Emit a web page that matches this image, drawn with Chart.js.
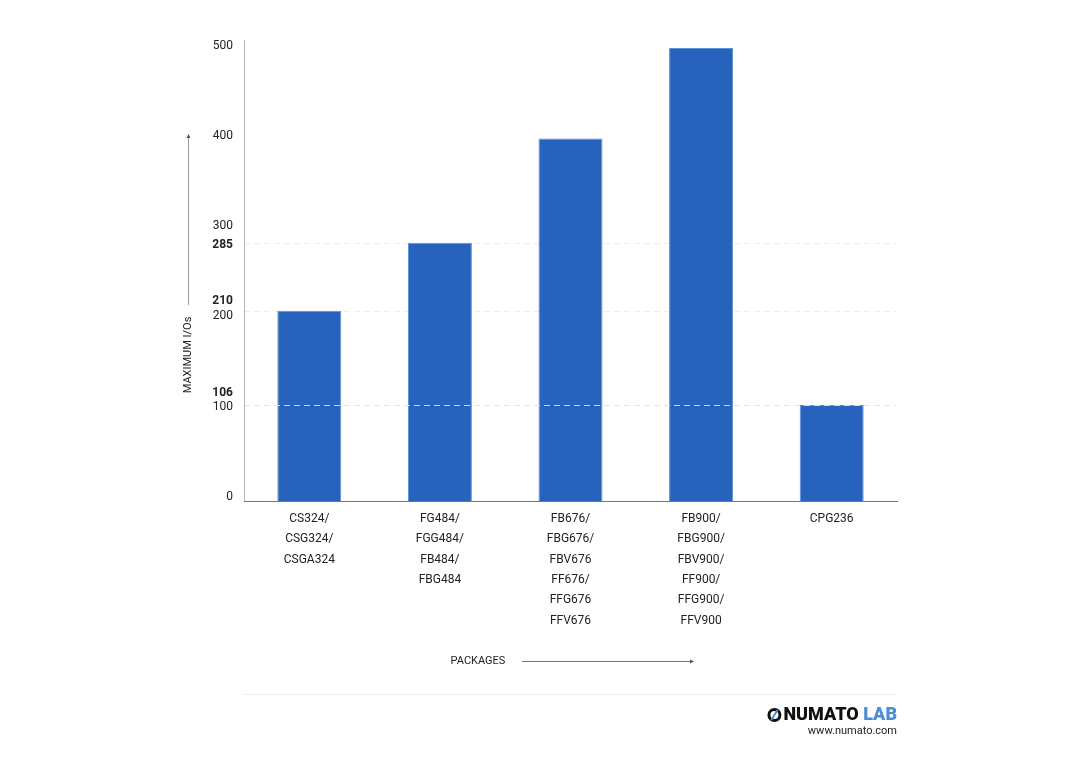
<!DOCTYPE html>
<html>
<head>
<meta charset="utf-8">
<script src="https://cdn.jsdelivr.net/npm/chart.js@4"></script>
<style>
body { margin: 0; background: #fff; }
#wrap { width: 1080px; height: 763px; }
</style>
</head>
<body>
<div id="wrap"><canvas id="ioChart" width="1080" height="763"></canvas></div>
<script>
const packages = [
    ['CS324/', 'CSG324/', 'CSGA324'],
    ['FG484/', 'FGG484/', 'FB484/', 'FBG484'],
    ['FB676/', 'FBG676/', 'FBV676', 'FF676/', 'FFG676', 'FFV676'],
    ['FB900/', 'FBG900/', 'FBV900/', 'FF900/', 'FFG900/', 'FFV900'],
    ['CPG236']
];
const maxIOs = [210, 285, 400, 500, 106];
const roundTicks = [0, 100, 200, 300, 400, 500];
const markedTicks = [106, 210, 285];
// small nudges so close labels don't collide
const tickNudge = { 0: -4, 100: -3, 106: -12, 200: -4, 210: -10, 285: 2, 300: -3, 400: -3, 500: -2 };

const font = 'Roboto, "Noto Sans", sans-serif';

const overlay = {
    id: 'overlay',
    beforeDatasetsDraw(chart) {
        const { ctx, chartArea, scales: { y } } = chart;
        ctx.save();
        ctx.strokeStyle = '#eeeeee';
        ctx.setLineDash([6, 4]);
        ctx.lineWidth = 1;
        [210, 285].forEach(v => {
            const py = Math.round(y.getPixelForValue(v)) + 0.5;
            ctx.beginPath(); ctx.moveTo(chartArea.left, py); ctx.lineTo(chartArea.right, py); ctx.stroke();
        });
        ctx.restore();
    },
    afterDatasetsDraw(chart) {
        const { ctx, chartArea, scales: { x, y } } = chart;
        ctx.save();
        ctx.strokeStyle = 'rgba(225,225,225,0.9)';
        ctx.setLineDash([6, 4]);
        const p106 = Math.round(y.getPixelForValue(106)) + 0.5;
        ctx.beginPath(); ctx.moveTo(chartArea.left, p106); ctx.lineTo(chartArea.right, p106); ctx.stroke();
        ctx.setLineDash([]);

        ctx.strokeStyle = '#b5b5b5';
        ctx.beginPath(); ctx.moveTo(chartArea.left + 0.5, 40); ctx.lineTo(chartArea.left + 0.5, chartArea.bottom); ctx.stroke();

        ctx.fillStyle = '#222';
        ctx.textAlign = 'right';
        ctx.textBaseline = 'middle';
        roundTicks.concat(markedTicks).forEach(v => {
            const bold = markedTicks.includes(v);
            ctx.font = (bold ? 'bold ' : '') + '12px ' + font;
            const py = y.getPixelForValue(v) + (tickNudge[v] || 0);
            ctx.fillText(String(v), 233, py);
        });

        ctx.font = '12px ' + font;
        ctx.textAlign = 'center';
        packages.forEach((lines, i) => {
            const px = x.getPixelForValue(i);
            lines.forEach((t, j) => ctx.fillText(t, px, 519 + j * 20.3));
        });

        ctx.strokeStyle = '#999';
        ctx.beginPath(); ctx.moveTo(188.5, 137); ctx.lineTo(188.5, 305); ctx.stroke();
        ctx.fillStyle = '#555';
        ctx.beginPath(); ctx.moveTo(186.5, 138); ctx.lineTo(188.5, 134); ctx.lineTo(190.5, 138); ctx.fill();
        ctx.save();
        ctx.translate(188, 355);
        ctx.rotate(-Math.PI / 2);
        ctx.fillStyle = '#222';
        ctx.font = '11px ' + font;
        ctx.fillText('MAXIMUM I/Os', 0, 0);
        ctx.restore();

        ctx.fillStyle = '#222';
        ctx.font = '11px ' + font;
        ctx.fillText('PACKAGES', 478, 661);
        ctx.strokeStyle = '#777';
        ctx.beginPath(); ctx.moveTo(522, 661.5); ctx.lineTo(692, 661.5); ctx.stroke();
        ctx.fillStyle = '#555';
        ctx.beginPath(); ctx.moveTo(690, 659.5); ctx.lineTo(694, 661.5); ctx.lineTo(690, 663.5); ctx.fill();

        ctx.strokeStyle = '#eeeeee';
        ctx.beginPath(); ctx.moveTo(244, 694.5); ctx.lineTo(897, 694.5); ctx.stroke();
        ctx.textAlign = 'right';
        ctx.font = '900 18px ' + font;
        ctx.fillStyle = '#4a8fd6';
        ctx.fillText('LAB', 897, 715);
        const labW = ctx.measureText('LAB ').width;
        ctx.fillStyle = '#111';
        ctx.fillText('NUMATO', 897 - labW, 715);
        const numW = ctx.measureText('NUMATO').width;
        const cx = 897 - labW - numW - 9;
        ctx.lineWidth = 3;
        ctx.strokeStyle = '#111';
        ctx.beginPath(); ctx.arc(cx, 715, 5.5, 0, Math.PI * 2); ctx.stroke();
        ctx.strokeStyle = '#4a8fd6';
        ctx.lineWidth = 2;
        ctx.beginPath(); ctx.moveTo(cx - 3, 720); ctx.lineTo(cx + 3, 710); ctx.stroke();
        ctx.font = '11px ' + font;
        ctx.fillStyle = '#222';
        ctx.fillText('www.numato.com', 897, 731);
        ctx.restore();
    }
};

new Chart(document.getElementById('ioChart'), {
    type: 'bar',
    data: {
        labels: packages,
        datasets: [{
            data: maxIOs,
            backgroundColor: '#2763bd',
            borderColor: '#5b8fd9',
            borderWidth: { top: 1, left: 1, right: 1, bottom: 0 },
            categoryPercentage: 1,
            barPercentage: 0.49
        }]
    },
    options: {
        responsive: false,
        animation: false,
        layout: { padding: { left: 236, right: 183, top: 48, bottom: 254 } },
        plugins: { legend: { display: false }, tooltip: { enabled: false } },
        scales: {
            x: {
                grid: { display: false },
                ticks: { display: false },
                border: { color: '#777' }
            },
            y: {
                min: 0, max: 500,
                grid: { display: false },
                ticks: { display: false },
                border: { display: false }
            }
        }
    },
    plugins: [overlay]
});
</script>
</body>
</html>
